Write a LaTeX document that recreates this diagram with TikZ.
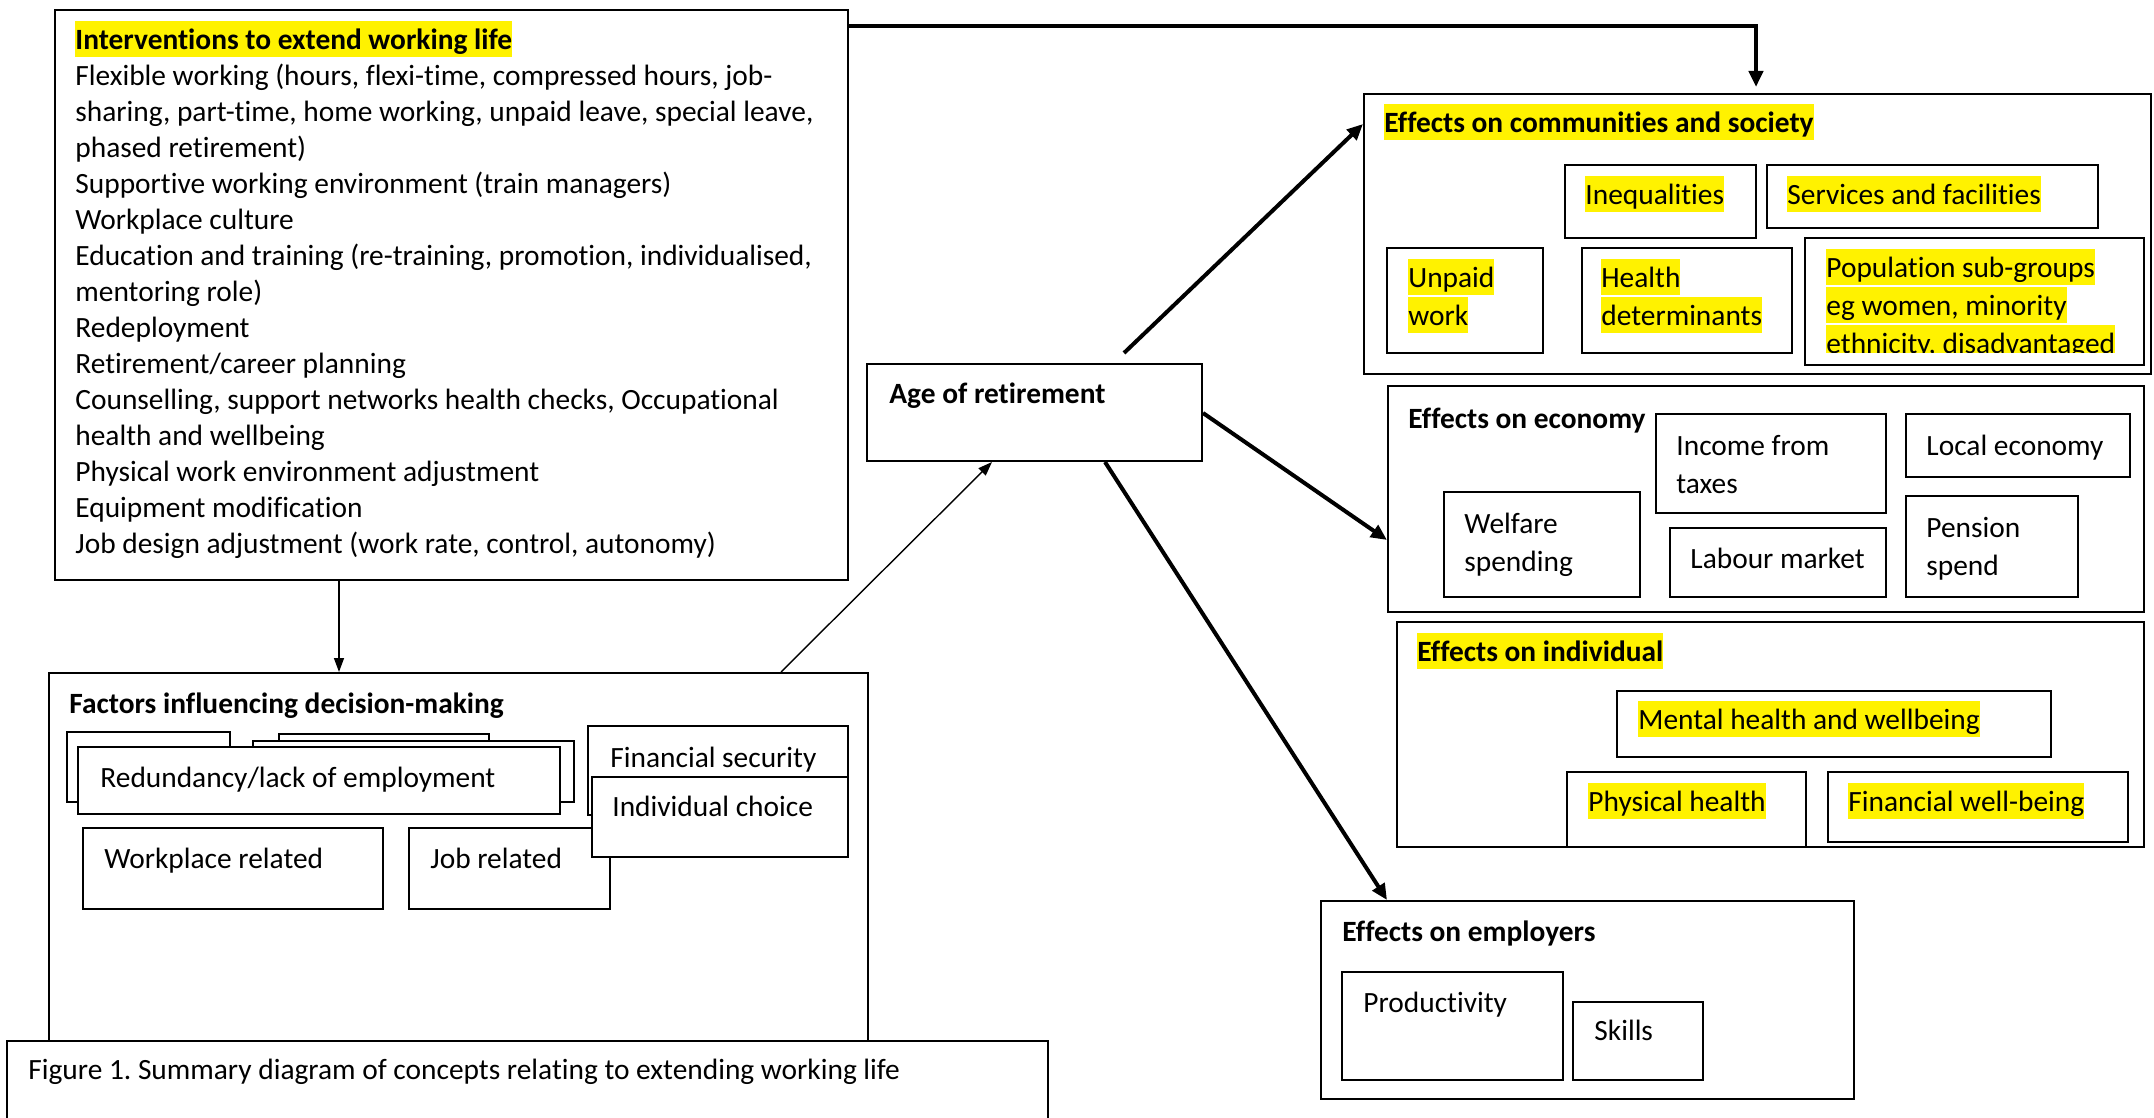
\documentclass[tikz,border=0pt]{standalone}
\usepackage{fontspec}
\setmainfont[Ligatures=NoCommon]{Carlito}
\usetikzlibrary{arrows.meta,fit}
\newcommand\hl[1]{{\setlength{\fboxsep}{0pt}\colorbox{yellow}{\rule[-4pt]{0pt}{18pt}#1}}}
\newcommand\fst{\rule{0pt}{14pt}}
\frenchspacing
\begin{document}
\begin{tikzpicture}[x=0.5pt,y=-0.5pt,
  boxs/.style={draw, line width=1pt, fill=white, inner sep=0pt},
  txt/.style={anchor=north west, inner sep=0pt, align=left, font=\fontsize{14.7pt}{18pt}\selectfont},
  txtb/.style={anchor=north west, inner sep=0pt, align=left, font=\fontsize{14.7pt}{19pt}\selectfont},
  thickarrow/.style={line width=2pt, -{Triangle[length=8pt,width=7pt]}},
  thinarrow/.style={line width=0.7pt, -{Triangle[length=7pt,width=5pt]}},
]
\useasboundingbox[fill=white] (0,0) rectangle (2154,1118);

% Interventions
\node[boxs, fit={(55,10) (848,580)}] (iv) {};
\node[txt] (ivt) at (75,21) {\hl{\textbf{Interventions to extend working life}}\\
Flexible working (hours, flexi-time, compressed hours, job-\\
sharing, part-time, home working, unpaid leave, special leave,\\
phased retirement)\\
Supportive working environment (train managers)\\
Workplace culture\\
Education and training (re-training, promotion, individualised,\\
mentoring role)\\
Redeployment\\
Retirement/career planning\\
Counselling, support networks health checks, Occupational\\
health and wellbeing\\
Physical work environment adjustment\\
Equipment modification\\
Job design adjustment (work rate, control, autonomy)};

% Factors
\node[boxs, fit={(49,673) (868,1070)}] (fac) {};
\node[txt] (fact) at (69,685) {\fst\textbf{Factors influencing decision-making}};
\node[boxs, fit={(67,732) (230,802)}] (fa1) {};
\node[boxs, fit={(279,734) (489,800)}] (fa2) {};
\node[boxs, fit={(253,741) (574,802)}] (fa3) {};
\node[boxs, fit={(78,747) (560,814)}] (red) {};
\node[txt] (redt) at (100,759) {\fst Redundancy/lack of employment};
\node[boxs, fit={(588,726) (848,815)}] (fin) {};
\node[txt] (fint) at (610,739) {\fst Financial security};
\node[boxs, fit={(83,828) (383,909)}] (wp) {};
\node[txt] (wpt) at (104,840) {\fst Workplace related};
\node[boxs, fit={(409,828) (610,909)}] (job) {};
\node[txt] (jobt) at (430,840) {\fst Job related};
\node[boxs, fit={(592,777) (848,857)}] (ind) {};
\node[txt] (indt) at (612,788) {\fst Individual choice};

% Caption
\node[boxs, fit={(7,1041) (1048,1130)}] (cap) {};
\node[txt] (capt) at (28,1051) {\fst Figure 1. Summary diagram of concepts relating to extending working life};

% Age of retirement
\node[boxs, fit={(867,364) (1202,461)}] (age) {};
\node[txt] (aget) at (889,375) {\fst\textbf{Age of retirement}};

% Communities and society
\node[boxs, fit={(1364,94) (2151,374)}] (com) {};
\node[txt] (comt) at (1384,104) {\hl{\textbf{Effects on communities and society}}};
\node[boxs, fit={(1565,165) (1756,238)}] (ineq) {};
\node[txt] (ineqt) at (1585,176) {\hl{Inequalities}};
\node[boxs, fit={(1767,165) (2098,228)}] (serv) {};
\node[txt] (servt) at (1787,176) {\hl{Services and facilities}};
\node[boxs, fit={(1387,248) (1543,353)}] (unp) {};
\node[txtb] (unpt) at (1408,259) {\hl{Unpaid}\\\hl{work}};
\node[boxs, fit={(1582,248) (1792,353)}] (hd) {};
\node[txtb] (hdt) at (1601,259) {\hl{Health}\\\hl{determinants}};
\node[boxs, fit={(1805,238) (2144,365)}] (pop) {};
\begin{scope}
\clip (1805,238) rectangle (2144,353);
\node[txtb] (popt) at (1826,249) {\hl{Population sub-groups}\\\hl{eg women, minority}\\\hl{ethnicity, disadvantaged}};
\end{scope}

% Economy
\node[boxs, fit={(1388,386) (2144,612)}] (eco) {};
\node[txt] (ecot) at (1408,400) {\fst\textbf{Effects on economy}};
\node[boxs, fit={(1656,414) (1886,513)}] (inc) {};
\node[txtb] (inct) at (1676,427) {\fst Income from\\taxes};
\node[boxs, fit={(1906,414) (2130,477)}] (loc) {};
\node[txt] (loct) at (1926,427) {\fst Local economy};
\node[boxs, fit={(1444,492) (1640,597)}] (wel) {};
\node[txtb] (welt) at (1464,505) {\fst Welfare\\spending};
\node[boxs, fit={(1670,528) (1886,597)}] (lab) {};
\node[txt] (labt) at (1690,540) {\fst Labour market};
\node[boxs, fit={(1906,496) (2078,597)}] (pen) {};
\node[txtb] (pent) at (1926,509) {\fst Pension\\spend};

% Individual
\node[boxs, fit={(1397,622) (2144,847)}] (indv) {};
\node[txt] (indvt) at (1417,633) {\hl{\textbf{Effects on individual}}};
\node[boxs, fit={(1617,691) (2051,757)}] (men) {};
\node[txt] (ment) at (1638,701) {\hl{Mental health and wellbeing}};
\node[boxs, fit={(1567,772) (1806,847)}] (phy) {};
\node[txt] (phyt) at (1588,783) {\hl{Physical health}};
\node[boxs, fit={(1828,772) (2128,842)}] (finw) {};
\node[txt] (finwt) at (1848,783) {\hl{Financial well-being}};

% Employers
\node[boxs, fit={(1321,901) (1854,1099)}] (emp) {};
\node[txt] (empt) at (1342,913) {\fst\textbf{Effects on employers}};
\node[boxs, fit={(1342,972) (1563,1080)}] (prod) {};
\node[txt] (prodt) at (1363,984) {\fst Productivity};
\node[boxs, fit={(1573,1002) (1703,1080)}] (sk) {};
\node[txt] (skt) at (1594,1012) {\fst Skills};

% Connectors
\coordinate (ivR) at (iv.east |- 0,26);
\coordinate (comTop) at (1756,87);
\draw[thickarrow] (ivR) -| (comTop);
\draw[thinarrow] (iv.south -| 339,0) -- (fac.north -| 339,0);
\draw[thinarrow] (fac.north -| 781,0) -- (age.south -| 992,0);
\coordinate (ageUp) at (1124,353);
\draw[thickarrow] (ageUp) -- (com.west |- 0,124);
\draw[thickarrow] (age.east |- 0,413) -- (eco.west |- 0,540);
\draw[thickarrow] (age.south -| 1105,0) -- (emp.north -| 1387,0);
\end{tikzpicture}
\end{document}
